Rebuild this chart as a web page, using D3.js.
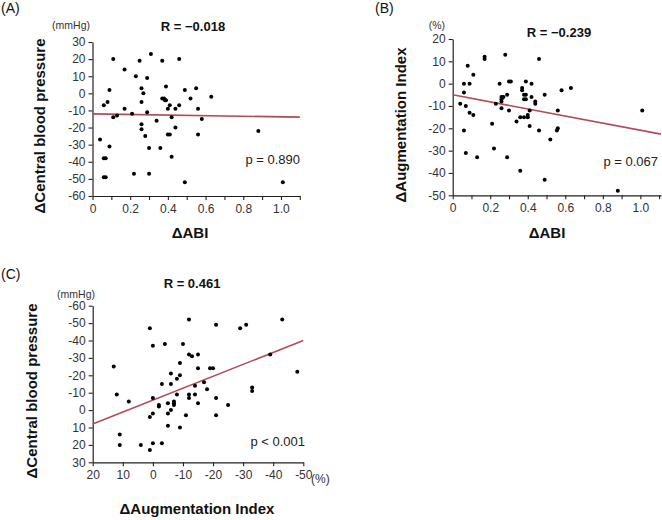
<!DOCTYPE html>
<html>
<head>
<meta charset="utf-8">
<script src="https://cdn.jsdelivr.net/npm/d3@7"></script>
<style>
  html, body { margin: 0; padding: 0; background: #fff; }
  svg { display: block; }
  text { font-family: "Liberation Sans", Arial, Helvetica, sans-serif; }
</style>
</head>
<body>
<div id="chart"></div>
<script>
// ---------- DATA ----------
// Panel A: ΔABI vs ΔCentral blood pressure (mmHg)
const abiA = [0.04,0.06,0.06,0.07,0.06,0.07,0.08,0.09,0.09,0.11,0.11,0.13,0.17,0.17,0.22,0.21,0.23,0.25,0.26,0.26,0.27,0.26,0.26,0.28,0.29,0.29,0.30,0.30,0.31,0.34,0.36,0.37,0.37,0.38,0.385,0.39,0.39,0.40,0.41,0.40,0.41,0.42,0.42,0.44,0.44,0.46,0.46,0.49,0.49,0.55,0.52,0.56,0.56,0.58,0.63,0.88,1.01];
const cbpA = [-27,-7,-38,-38,-49,-49,-5,2,-31,20,-14,-13,14,-9,-47,-12,10,19,3,-5,0,-18,-21,-25,9,-11,-32,-47,23,-16,-32,19,-3,-3,-4,-4,4,-9,-7,-24,-24,-14,-37,-9,-20,-7,20,2,-52,3,-3,-9,-24,-15,-2,-22,-52];
const fitA = [[0, -12], [1.1, -13.9]];

// Panel B: ΔABI vs ΔAugmentation Index (%)
const abiB = [0.04,0.06,0.06,0.06,0.07,0.07,0.08,0.09,0.09,0.11,0.11,0.13,0.17,0.17,0.21,0.22,0.23,0.25,0.26,0.26,0.26,0.26,0.27,0.28,0.29,0.29,0.30,0.30,0.31,0.34,0.36,0.36,0.37,0.37,0.38,0.38,0.39,0.39,0.38,0.39,0.40,0.40,0.41,0.41,0.42,0.42,0.44,0.44,0.46,0.46,0.49,0.49,0.52,0.555,0.56,0.56,0.58,0.63,0.88,1.01];
const aiB = [-9,0,-4,-21,-10,-31,8,0,-13,4,-14,-33,12,11,-18,-29,-9,0,-6,-7,-8,-11,-6,13,-5,-33,-12,1,1,-17,-15,-39,-2,-3,-5,-7,-5,-7,-15,1,-14,-15,-12,-19,0,-6,-8,-9,11,-21,-5,-43,-25,-21,-20,-12,-3,-2,-48,-12];
const fitB = [[0, -5], [1.11, -22.6]];

// Panel C: ΔAugmentation Index (%) vs ΔCentral blood pressure (mmHg)
const aiC = [13,12,11,11,8,4,1,1,1,0,0,0,0,-2,-2,-3,-3,-4,-5,-5,-5,-6,-6,-6,-7,-7,-7,-8,-8,-9,-9,-9,-10,-11,-12,-12,-12,-12,-13,-14,-14,-15,-15,-15,-17,-18,-19,-20,-21,-21,-21,-25,-29,-31,-33,-33,-39,-43,-48];
const cbpC = [-25,-9,14,20,-5,20,-47,4,23,-7,2,19,-37,-3,-2,-15,19,-38,-4,2,9,-15,-21,0,-5,-4,-3,-18,-9,-20,-27,10,-38,3,-52,-32,-9,-7,-31,-14,-9,-32,-24,-4,-16,-12,-24,-24,-49,-7,3,-3,-47,-49,-13,-11,-32,-52,-22];
const fitC = [[20, 8], [-50, -40]];

// Tick values / labels
const abiTicks = [0,0.1,0.2,0.3,0.4,0.5,0.6,0.7,0.8,0.9,1.0,1.1];
const abiLabels = ["0","","0.2","","0.4","","0.6","","0.8","","1.0",""];
const cbpTicksA = [30,20,10,0,-10,-20,-30,-40,-50,-60];
const aiTicksB = [20,10,0,-10,-20,-30,-40,-50];
const aiTicksC = [20,10,0,-10,-20,-30,-40,-50];
const cbpTicksC = [-60,-50,-40,-30,-20,-10,0,10,20,30];

const panels = [
  { tag: "(A)", tagXY: [1, 13],
    xs: abiA, ys: cbpA, fit: fitA,
    xDom: [0, 1.1], xRange: [92.5, 299.8], yDom: [30, -60], yRange: [42, 196],
    xTicks: abiTicks, xLabels: abiLabels, yTicks: cbpTicksA,
    unit: "(mmHg)", unitXY: [90, 29],
    r: "R = \u22120.018", rXY: [193, 31],
    p: "p = 0.890", pXY: [300, 164],
    yTitle: "\u0394Central blood pressure", yTitleXY: [44.5, 126],
    xTitle: "\u0394ABI", xTitleXY: [190, 238] },
  { tag: "(B)", tagXY: [375, 13],
    xs: abiB, ys: aiB, fit: fitB,
    xDom: [0, 1.11], xRange: [452.7, 661], yDom: [20, -50], yRange: [39, 195.3],
    xTicks: abiTicks, xLabels: abiLabels, yTicks: aiTicksB,
    unit: "(%)", unitXY: [445, 29],
    r: "R = \u22120.239", rXY: [559, 37],
    p: "p = 0.067", pXY: [658, 166],
    yTitle: "\u0394Augmentation Index", yTitleXY: [405.5, 125],
    xTitle: "\u0394ABI", xTitleXY: [547, 238] },
  { tag: "(C)", tagXY: [1, 279],
    xs: aiC, ys: cbpC, fit: fitC,
    xDom: [20, -50], xRange: [92.7, 303.3], yDom: [-60, 30], yRange: [305.7, 462.3],
    xTicks: aiTicksC, xLabels: aiTicksC.map(String), yTicks: cbpTicksC,
    unit: "(mmHg)", unitXY: [95, 298],
    r: "R = 0.461", rXY: [192, 288],
    p: "p < 0.001", pXY: [305, 446],
    yTitle: "\u0394Central blood pressure", yTitleXY: [37, 391],
    xTitle: "\u0394Augmentation Index", xTitleXY: [197, 514],
    xUnit: "(%)", xUnitXY: [311, 483] }
];

const svg = d3.select("#chart").append("svg")
  .attr("width", 662).attr("height", 520);

const axisColor = "#222";
const tickTextColor = "#333";
const fitColor = "#b24a57";

panels.forEach(P => {
  const x = d3.scaleLinear().domain(P.xDom).range(P.xRange);
  const y = d3.scaleLinear().domain(P.yDom).range(P.yRange);
  const g = svg.append("g");

  // axes
  const xAxis = d3.axisBottom(x).tickValues(P.xTicks)
    .tickFormat((d, i) => P.xLabels[i]).tickSize(4).tickPadding(4).tickSizeOuter(0);
  const yAxis = d3.axisLeft(y).tickValues(P.yTicks)
    .tickFormat(d => String(d)).tickSize(4).tickPadding(3).tickSizeOuter(0);

  const gx = g.append("g").attr("transform", `translate(0,${P.yRange[1]})`).call(xAxis);
  const gy = g.append("g").attr("transform", `translate(${P.xRange[0]},0)`).call(yAxis);
  [gx, gy].forEach(a => {
    a.select(".domain").attr("stroke", axisColor).attr("stroke-width", 1.2);
    a.selectAll(".tick line").attr("stroke", axisColor).attr("stroke-width", 1.1);
    a.selectAll(".tick text").attr("fill", tickTextColor)
      .style("font-family", '"Liberation Sans", Arial, sans-serif').style("font-size", "12px");
  });

  // regression line
  g.append("path")
    .datum(P.fit)
    .attr("d", d3.line().x(d => x(d[0])).y(d => y(d[1])))
    .attr("fill", "none").attr("stroke", fitColor).attr("stroke-width", 1.6);

  // points
  g.append("g").selectAll("circle")
    .data(P.xs.map((v, i) => [v, P.ys[i]]))
    .join("circle")
    .attr("cx", d => x(d[0])).attr("cy", d => y(d[1]))
    .attr("r", 2).attr("fill", "#000");

  // texts
  g.append("text").attr("x", P.tagXY[0]).attr("y", P.tagXY[1])
    .attr("font-size", 14).attr("fill", "#111").text(P.tag);
  g.append("text").attr("x", P.unitXY[0]).attr("y", P.unitXY[1])
    .attr("text-anchor", "end").attr("font-size", 10.5).attr("fill", "#333").text(P.unit);
  g.append("text").attr("x", P.rXY[0]).attr("y", P.rXY[1])
    .attr("text-anchor", "middle").attr("font-size", 13).attr("font-weight", "bold")
    .attr("fill", "#111").text(P.r);
  g.append("text").attr("x", P.pXY[0]).attr("y", P.pXY[1])
    .attr("text-anchor", "end").attr("font-size", 13).attr("fill", "#222").text(P.p);
  g.append("text")
    .attr("transform", `translate(${P.yTitleXY[0]},${P.yTitleXY[1]}) rotate(-90)`)
    .attr("text-anchor", "middle").attr("font-size", 15).attr("font-weight", "bold")
    .attr("fill", "#111").text(P.yTitle);
  g.append("text").attr("x", P.xTitleXY[0]).attr("y", P.xTitleXY[1])
    .attr("text-anchor", "middle").attr("font-size", 15).attr("font-weight", "bold")
    .attr("fill", "#111").text(P.xTitle);
  if (P.xUnit) {
    g.append("text").attr("x", P.xUnitXY[0]).attr("y", P.xUnitXY[1])
      .attr("font-size", 12).attr("fill", tickTextColor).text(P.xUnit);
  }
});
</script>
</body>
</html>
